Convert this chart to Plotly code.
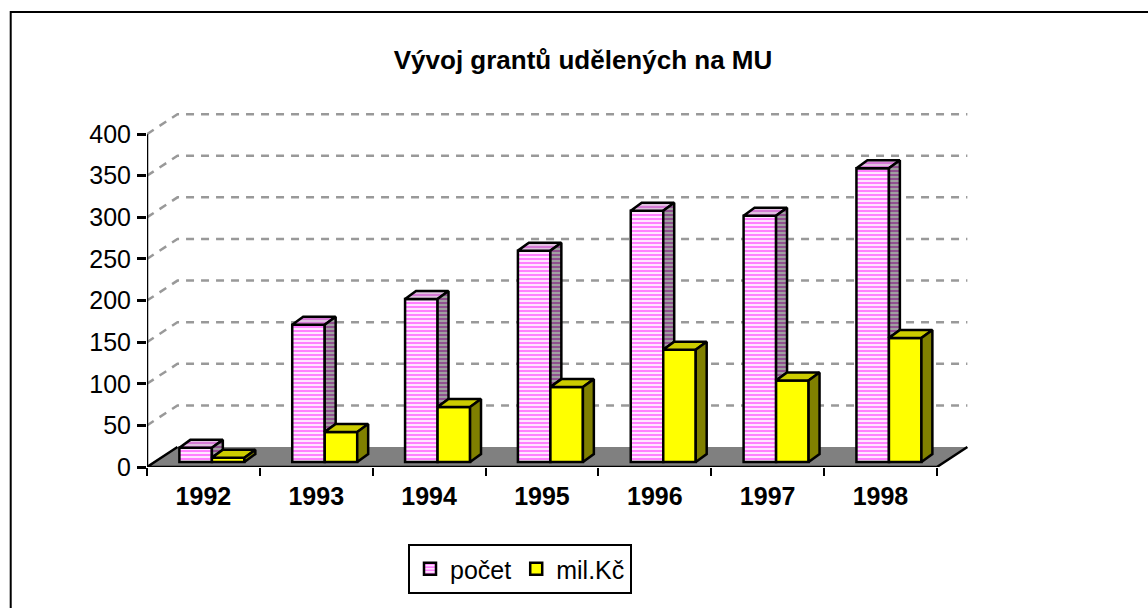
import plotly.graph_objects as go

# ---- data ----
years = ["1992", "1993", "1994", "1995", "1996", "1997", "1998"]
pocet = [17, 165, 196, 254, 302, 296, 353]
milkc = [5, 36, 66, 90, 135, 98, 149]
y_ticks = [0, 50, 100, 150, 200, 250, 300, 350, 400]
title_text = "Vývoj grantů udělených na MU"
series_names = ["počet", "mil.Kč"]

# ---- geometry (in axis units) ----
W = 0.288            # bar width (category units)
BX, BY = 0.075, 6.0  # front face offset from floor front edge
DX, DY = 0.097, 9.6  # bar depth projection
FX, FY = 0.27, 24.0  # floor / wall depth projection
XMIN, XMAX = -0.5, len(years) - 0.5
YTOP = max(y_ticks)

FONT = "Arial, Liberation Sans, sans-serif"
idx = list(range(len(years)))

fig = go.Figure()

# front faces as real bars
fig.add_trace(go.Bar(
    x=idx, y=pocet, base=BY, width=W, offset=BX - W, name=series_names[0],
    marker=dict(color="white", line=dict(color="black", width=2.5),
                pattern=dict(shape="-", fgcolor="#ff00ff", bgcolor="white", size=4, solidity=0.6)),
    hoverinfo="skip"))
fig.add_trace(go.Bar(
    x=idx, y=milkc, base=BY, width=W, offset=BX, name=series_names[1],
    marker=dict(color="#ffff00", line=dict(color="black", width=2.5)),
    hoverinfo="skip"))


def poly_trace(polys, fill, pattern=None):
    xs, ys = [], []
    for p in polys:
        for (a, b) in p + [p[0]]:
            xs.append(a)
            ys.append(b)
        xs.append(None)
        ys.append(None)
    kw = dict(x=xs, y=ys, mode="lines", fill="toself", fillcolor=fill,
              line=dict(color="black", width=2.5), showlegend=False, hoverinfo="skip")
    if pattern:
        kw["fillpattern"] = pattern
    return go.Scatter(**kw)


p_top, p_side, m_top, m_side = [], [], [], []
for i, (p, m) in enumerate(zip(pocet, milkc)):
    x0 = i + BX - W
    x1 = i + BX
    x2 = i + BX + W
    p_top.append([(x0, BY + p), (x1, BY + p), (x1 + DX, BY + p + DY), (x0 + DX, BY + p + DY)])
    lo = min(m, p)
    p_side.append([(x1, BY + lo), (x1 + DX, BY + lo + DY), (x1 + DX, BY + p + DY), (x1, BY + p)])
    m_top.append([(x1, BY + m), (x2, BY + m), (x2 + DX, BY + m + DY), (x1 + DX, BY + m + DY)])
    m_side.append([(x2, BY), (x2 + DX, BY + DY), (x2 + DX, BY + m + DY), (x2, BY + m)])

fig.add_trace(poly_trace(p_top, "#e0b0e0",
                         dict(shape="-", fgcolor="#cc33cc", bgcolor="#e0c0e0", size=4, solidity=0.5)))
fig.add_trace(poly_trace(p_side, "#999999",
                         dict(shape="-", fgcolor="#800080", bgcolor="#a0a0a0", size=4, solidity=0.5)))
fig.add_trace(poly_trace(m_top, "#cccc00"))
fig.add_trace(poly_trace(m_side, "#808000"))

shapes = []
# floor
floor_path = (f"M {XMIN},0 L {XMAX},0 L {XMAX + FX},{FY} L {XMIN + FX},{FY} Z")
shapes.append(dict(type="path", path=floor_path, xref="x", yref="y", layer="below",
                   fillcolor="#808080", line=dict(width=0)))
shapes.append(dict(type="path", xref="x", yref="y", layer="below",
                   path=f"M {XMIN + FX},{FY} L {XMIN},0 L {XMAX},0 L {XMAX + FX},{FY}",
                   line=dict(color="black", width=2.5)))
# back wall gridlines
for v in y_ticks[1:]:
    shapes.append(dict(type="path", xref="x", yref="y", layer="below",
                       path=f"M {XMIN},{v} L {XMIN + FX},{v + FY} L {XMAX + FX},{v + FY}",
                       line=dict(color="#999999", width=2.5, dash="8px,7px")))
# value axis line
shapes.append(dict(type="line", xref="x", yref="y", x0=XMIN, x1=XMIN, y0=0, y1=YTOP,
                   line=dict(color="black", width=2.5)))
# chart frame
shapes.append(dict(type="rect", xref="paper", yref="paper",
                   x0=-0.165, x1=1.25, y0=-0.45, y1=1.257,
                   line=dict(color="black", width=2), fillcolor="rgba(0,0,0,0)"))

fig.update_layout(
    width=1148, height=608,
    margin=dict(l=147, r=175, t=105, b=141, autoexpand=False),
    paper_bgcolor="white", plot_bgcolor="white",
    barmode="overlay",
    shapes=shapes,
    font=dict(family=FONT, size=25, color="black"),
    title=dict(text="<b>" + title_text + "</b>", x=583 / 1148, xref="container", xanchor="center",
               y=1 - 60 / 608, yref="container", yanchor="middle",
               font=dict(family=FONT, size=26, color="black")),
    legend=dict(orientation="h", x=520 / 1148, xref="container", xanchor="center",
                y=1 - 544 / 608, yref="container", yanchor="top",
                bordercolor="black", borderwidth=2, bgcolor="white",
                font=dict(family=FONT, size=25, color="black"),
                itemwidth=30, tracegroupgap=0),
    showlegend=True,
)
fig.update_xaxes(range=[XMIN, XMAX + FX + 0.05], tickmode="array", tickvals=idx, ticktext=years,
                 tickfont=dict(family=FONT, size=25, color="black", weight="bold"),
                 showgrid=False, zeroline=False, showline=False, ticks="",
                 ticklabelstandoff=12, automargin=False,
                 minor=dict(tickmode="array", tickvals=[i - 0.5 for i in range(len(years) + 1)],
                            ticks="outside", ticklen=8, tickwidth=2, tickcolor="black", showgrid=False),
                 fixedrange=True)
fig.update_yaxes(range=[0, 435], tickmode="array", tickvals=y_ticks,
                 showgrid=False, zeroline=False, showline=False,
                 ticks="outside", ticklen=9, tickwidth=2.5, tickcolor="black",
                 tickfont=dict(family=FONT, size=25, color="black"),
                 ticklabelstandoff=1, automargin=False,
                 fixedrange=True)

fig.write_html("out.html", config={"displayModeBar": False},
               post_script="document.body.style.margin='0';document.body.style.overflow='hidden';")
